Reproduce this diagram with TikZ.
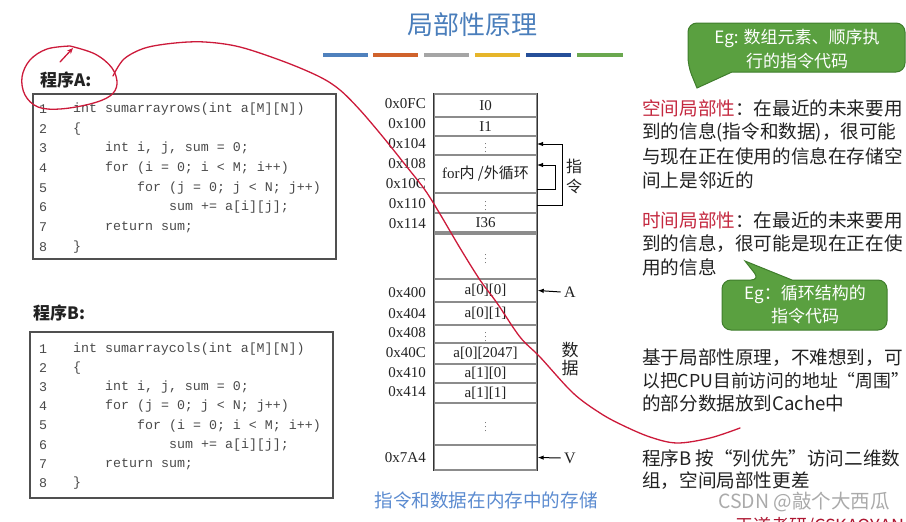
\documentclass[tikz,border=0pt]{standalone}
\usepackage{fontspec}
\setmainfont{Liberation Serif}
\newfontfamily\cjk{Noto Sans CJK SC}
\newfontfamily\codefont{Liberation Mono}
\usetikzlibrary{arrows.meta}
\definecolor{titleblue}{HTML}{4A7EBB}
\definecolor{barA}{HTML}{4F81BD}
\definecolor{barB}{HTML}{D0622B}
\definecolor{barC}{HTML}{A5A5A5}
\definecolor{barD}{HTML}{E6B52A}
\definecolor{barE}{HTML}{254F99}
\definecolor{barF}{HTML}{6AA84F}
\definecolor{codegray}{HTML}{4A4A4A}
\definecolor{framegray}{HTML}{505050}
\definecolor{cellgray}{HTML}{8C8C8C}
\definecolor{txt}{HTML}{222222}
\definecolor{hred}{HTML}{C4283F}
\definecolor{bubblegreen}{HTML}{5AA040}
\definecolor{bubbleedge}{HTML}{3F7D2C}
\definecolor{penred}{HTML}{CC1A3A}
\definecolor{capblue}{HTML}{5B8BD0}
\definecolor{wmgray}{HTML}{AAAAAA}
\begin{document}
\begin{tikzpicture}[x=1pt,y=-1pt,
  codeln/.style={anchor=west, inner sep=0pt, font=\codefont\fontsize{13.3}{16}\selectfont, text=codegray},
  proglbl/.style={anchor=west, inner sep=0pt, font=\cjk\bfseries\fontsize{17}{20}\selectfont, text=txt},
  addr/.style={anchor=east, inner sep=0pt, font=\fontsize{15}{18}\selectfont, text=txt},
  cell/.style={draw=cellgray, line width=1.4pt, minimum width=103pt, inner sep=0pt, font=\fontsize{15}{18}\selectfont, text=txt},
  rt/.style={anchor=west, inner sep=0pt, font=\cjk\fontsize{18.6}{22}\selectfont, text=txt},
  side/.style={inner sep=0pt, font=\cjk\fontsize{16}{18}\selectfont, text=txt},
  bubble/.style={fill=bubblegreen, draw=bubbleedge, line width=1pt},
  btext/.style={inner sep=0pt, text=white, font=\cjk\fontsize{17}{20}\selectfont},
  ptr/.style={-{Latex[length=6pt,width=4.5pt]}, line width=1pt},
  pen/.style={draw=penred, line width=1.3pt, line cap=round, line join=round},
  bar/.style={line width=4pt},
  dots/.style={font=\fontsize{8}{9}\selectfont, text=txt}
]
\useasboundingbox (0,0) rectangle (906,522);

% title and colour bars
\node[font=\cjk\fontsize{26}{30}\selectfont, text=titleblue] (title) at (472,25) {局部性原理};
\draw[bar, barA] (323,55) -- (368,55);
\draw[bar, barB] (373,55) -- (418,55);
\draw[bar, barC] (424,55) -- (469,55);
\draw[bar, barD] (475,55) -- (520,55);
\draw[bar, barE] (526,55) -- (571,55);
\draw[bar, barF] (577,55) -- (623,55);

% program A
\node[proglbl] (labA) at (40,80) {程序A:};
\node[draw=framegray, line width=1.5pt, minimum width=303pt, minimum height=165pt, anchor=north west] (boxA) at (32,93) {};
\node[codeln] (a1n) at (39,109) {1};     \node[codeln] (a1) at (73,109) {int sumarrayrows(int a[M][N])};
\node[codeln] (a2n) at (39,128.7) {2};   \node[codeln] (a2) at (73,128.7) {\{};
\node[codeln] (a3n) at (39,148.4) {3};   \node[codeln] (a3) at (105,148.4) {int i, j, sum = 0;};
\node[codeln] (a4n) at (39,168.1) {4};   \node[codeln] (a4) at (105,168.1) {for (i = 0; i < M; i++)};
\node[codeln] (a5n) at (39,187.8) {5};   \node[codeln] (a5) at (137,187.8) {for (j = 0; j < N; j++)};
\node[codeln] (a6n) at (39,207.5) {6};   \node[codeln] (a6) at (169,207.5) {sum += a[i][j];};
\node[codeln] (a7n) at (39,227.2) {7};   \node[codeln] (a7) at (105,227.2) {return sum;};
\node[codeln] (a8n) at (39,247) {8};     \node[codeln] (a8) at (73,247) {\}};

% program B
\node[proglbl] (labB) at (33,313) {程序B:};
\node[draw=framegray, line width=1.5pt, minimum width=303pt, minimum height=166pt, anchor=north west] (boxB) at (29,331) {};
\node[codeln] (b1n) at (39,349) {1};     \node[codeln] (b1) at (73,349) {int sumarraycols(int a[M][N])};
\node[codeln] (b2n) at (39,368.1) {2};   \node[codeln] (b2) at (73,368.1) {\{};
\node[codeln] (b3n) at (39,387.3) {3};   \node[codeln] (b3) at (105,387.3) {int i, j, sum = 0;};
\node[codeln] (b4n) at (39,406.4) {4};   \node[codeln] (b4) at (105,406.4) {for (j = 0; j < N; j++)};
\node[codeln] (b5n) at (39,425.6) {5};   \node[codeln] (b5) at (137,425.6) {for (i = 0; i < M; i++)};
\node[codeln] (b6n) at (39,444.7) {6};   \node[codeln] (b6) at (169,444.7) {sum += a[i][j];};
\node[codeln] (b7n) at (39,463.9) {7};   \node[codeln] (b7) at (105,463.9) {return sum;};
\node[codeln] (b8n) at (39,483) {8};     \node[codeln] (b8) at (73,483) {\}};

% memory column
\node[cell, minimum height=23pt] (m1) at (485.5,105.5) {I0};
\node[cell, minimum height=19pt] (m2) at (485.5,126.5) {I1};
\node[cell, minimum height=19pt, dots] (m3) at (485.5,145.5) {$\vdots$};
\node[cell, minimum height=38pt] (m4) at (485.5,174) {for{\cjk 内 /外循环}};
\node[cell, minimum height=20pt, dots] (m5) at (485.5,203) {$\vdots$};
\node[cell, minimum height=19pt] (m6) at (485.5,222.5) {I36};
\node[cell, minimum height=45pt, dots] (m7) at (485.5,256.5) {$\vdots$};
\node[cell, minimum height=23pt] (m8) at (485.5,290.5) {a[0][0]};
\node[cell, minimum height=23pt] (m9) at (485.5,313.5) {a[0][1]};
\node[cell, minimum height=18pt, dots] (m10) at (485.5,334) {$\vdots$};
\node[cell, minimum height=21pt] (m11) at (485.5,353.5) {a[0][2047]};
\node[cell, minimum height=19pt] (m12) at (485.5,373.5) {a[1][0]};
\node[cell, minimum height=20pt] (m13) at (485.5,393) {a[1][1]};
\node[cell, minimum height=42pt, dots] (m14) at (485.5,424) {$\vdots$};
\node[cell, minimum height=25pt] (m15) at (485.5,457.5) {};
\draw[line width=1.3pt, black!80] (m1.north west) -- (m15.south west);
\draw[line width=1.3pt, black!80] (m1.north east) -- (m15.south east);

% addresses
\node[addr] (ad1) at (426,104) {0x0FC};
\node[addr] (ad2) at (426,124) {0x100};
\node[addr] (ad3) at (426,144) {0x104};
\node[addr] (ad4) at (426,164) {0x108};
\node[addr] (ad5) at (426,184) {0x10C};
\node[addr] (ad6) at (426,204) {0x110};
\node[addr] (ad7) at (426,224) {0x114};
\node[addr] (ad8) at (426,293) {0x400};
\node[addr] (ad9) at (426,314) {0x404};
\node[addr] (ad10) at (426,333) {0x408};
\node[addr] (ad11) at (426,353) {0x40C};
\node[addr] (ad12) at (426,373) {0x410};
\node[addr] (ad13) at (426,392) {0x414};
\node[addr] (ad14) at (426,458) {0x7A4};

% instruction loop brackets
\coordinate (ob) at (537,205);
\coordinate (ot) at (537,144);
\coordinate (ib) at (537,189);
\coordinate (it) at (537,165);
\draw[ptr] (ob) -- ++(25,0) |- (ot);
\draw[ptr] (ib) -- ++(18,0) |- (it);
\node[side] (zhi) at (574,166) {指};
\node[side] (ling) at (574,186) {令};
\node[side, font=\cjk\fontsize{17}{18}\selectfont] (shu) at (570,350) {数};
\node[side, font=\cjk\fontsize{17}{18}\selectfont] (ju) at (570,368) {据};

% A and V pointers
\node[font=\fontsize{16}{18}\selectfont, text=txt] (lA) at (570,292) {A};
\node[font=\fontsize{16}{18}\selectfont, text=txt] (lV) at (570,458) {V};
\draw[ptr] (lA.west) -- (m8.east);
\draw[ptr] (lV.west) -- (m15.east);

% caption
\node[font=\cjk\fontsize{18.6}{22}\selectfont, text=capblue] (cap) at (486,500) {指令和数据在内存中的存储};

% right text
\node[rt] (s1) at (642,108) {\textcolor{hred}{空间局部性}：在最近的未来要用};
\node[rt] (s2) at (642,132) {到的信息(指令和数据)，很可能};
\node[rt] (s3) at (642,156) {与现在正在使用的信息在存储空};
\node[rt] (s4) at (642,180) {间上是邻近的};
\node[rt] (t1) at (642,220) {\textcolor{hred}{时间局部性}：在最近的未来要用};
\node[rt] (t2) at (642,244) {到的信息，很可能是现在正在使};
\node[rt] (t3) at (642,267) {用的信息};
\node[rt] (u1) at (642,358) {基于局部性原理，不难想到，可};
\node[rt, font=\cjk\fontsize{17.8}{22}\selectfont] (u2) at (642,381) {以把CPU目前访问的地址“周围”};
\node[rt] (u3) at (642,403) {的部分数据放到Cache中};
\node[rt] (v1) at (642,458) {程序B 按“列优先”访问二维数};
\node[rt] (v2) at (642,481) {组，空间局部性更差};

% callouts
\filldraw[bubble] (697,88) -- (732,72) [rounded corners=9pt] -- (905,72) -- (905,23) -- (688,23) -- (688,66) [sharp corners] -- cycle;
\node[btext] (e1a) at (797,38) {Eg: 数组元素、顺序执};
\node[btext] (e1b) at (797,61) {行的指令代码};
\filldraw[bubble] (745,261) -- (792,280) [rounded corners=9pt] -- (887,280) -- (887,330) -- (722,330) -- (722,280) -- (760,280) [sharp corners] -- cycle;
\node[btext] (e2a) at (805,294) {Eg：循环结构的};
\node[btext] (e2b) at (805,316) {指令代码};

% red pen strokes
\draw[pen, -{Stealth[length=6pt,width=5pt]}] (60,62) -- (73,48);
\draw[pen] plot[smooth, tension=0.6] coordinates {(70,46) (95,54) (112,68) (117,84) (110,96) (90,104) (60,109) (38,107) (25,95) (22,77) (30,60) (47,49) (70,46)};
\draw[pen] plot[smooth, tension=0.55] coordinates {(113,76) (124,59) (145,48) (175,43) (205,42) (240,47) (285,62) (320,77) (340,90) (360,110) (383,137) (407,167) (425,190) (440,214) (460,248) (480,280) (497,303) (520,337) (540,357) (573,393) (600,413) (622,425) (650,437) (677,443) (710,438) (740,428)};

% watermark and cut-off footer
\node[font=\cjk\fontsize{19.5}{22}\selectfont, text=wmgray] (wm) at (804,502) {CSDN @敲个大西瓜};
\begin{scope}
\clip (600,505) rectangle (906,522);
\node[anchor=west, inner sep=0pt, font=\cjk\fontsize{18}{20}\selectfont, text=penred!85!black] (foot) at (735,527) {王道考研/CSKAOYAN.COM};
\end{scope}
\end{tikzpicture}
\end{document}
